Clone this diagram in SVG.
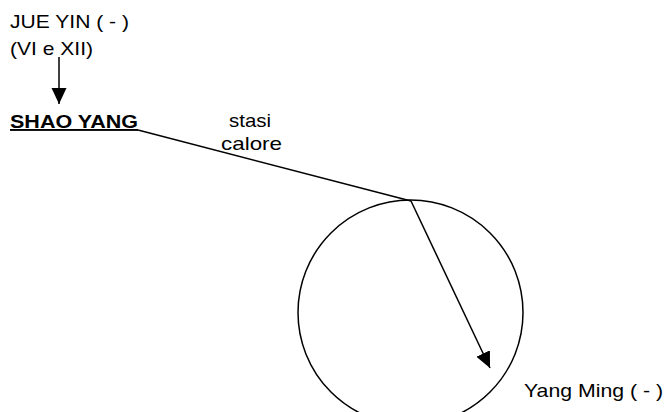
<svg xmlns="http://www.w3.org/2000/svg" width="664" height="412" viewBox="0 0 664 412">
  <style>
    .t { font-family: "Liberation Sans", Arial, sans-serif; font-size: 19px; fill: #000; }
    .b { font-weight: bold; text-decoration: underline; }
    .ln { stroke: #000; stroke-width: 1.5; fill: none; }
  </style>
  <defs>
    <marker id="ah" markerUnits="userSpaceOnUse" markerWidth="17" markerHeight="16" refX="16" refY="7.5" orient="auto">
      <path d="M0,0 L16,7.5 L0,15 z" fill="#000"/>
    </marker>
  </defs>
  <rect width="664" height="412" fill="#fff"/>
  <g id="jue-yin">
    <text class="t" x="10" y="28" textLength="119" lengthAdjust="spacingAndGlyphs">JUE YIN ( - )</text>
    <text class="t" x="10" y="55" textLength="83" lengthAdjust="spacingAndGlyphs">(VI e XII)</text>
  </g>
  <g id="shao-yang">
    <text class="t b" x="10" y="128" textLength="128" lengthAdjust="spacingAndGlyphs">SHAO YANG</text>
  </g>
  <g id="stasi-label">
    <text class="t" x="229" y="127" textLength="42" lengthAdjust="spacingAndGlyphs">stasi</text>
    <text class="t" x="221" y="150" textLength="61" lengthAdjust="spacingAndGlyphs">calore</text>
  </g>
  <g id="yang-ming">
    <circle class="ln" cx="410.5" cy="312.5" r="112.5"/>
    <text class="t" x="524" y="397" textLength="139" lengthAdjust="spacingAndGlyphs">Yang Ming ( - )</text>
  </g>
  <g id="connectors">
    <line class="ln" x1="59" y1="57" x2="59" y2="104" marker-end="url(#ah)"/>
    <line class="ln" x1="138" y1="130" x2="411" y2="201"/>
    <line class="ln" x1="411" y1="201" x2="490" y2="368" marker-end="url(#ah)"/>
  </g>
</svg>
